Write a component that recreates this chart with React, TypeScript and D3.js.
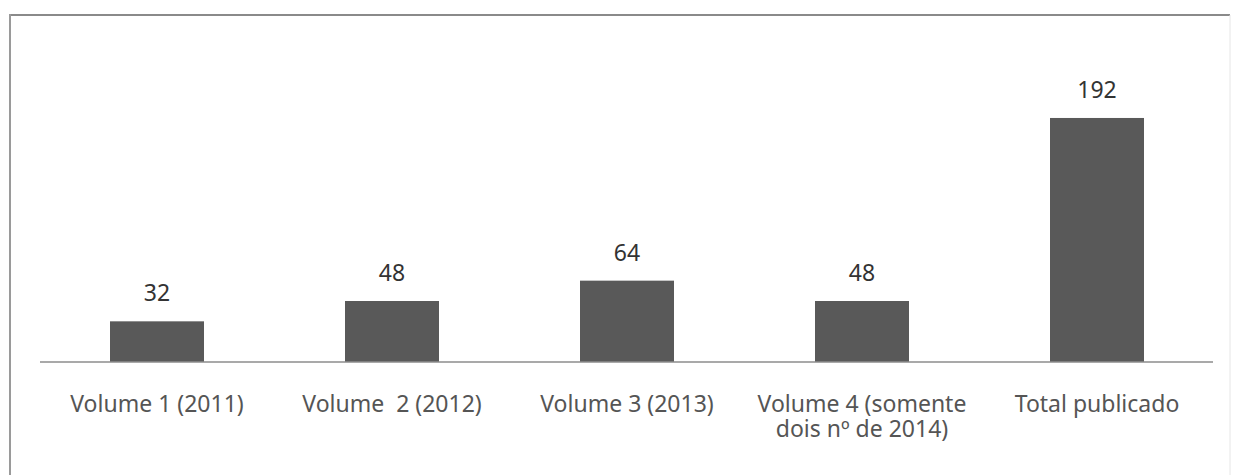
import React from "react";
import * as d3 from "d3";

const categories: string[][] = [
  ["Volume 1 (2011)"],
  ["Volume  2 (2012)"],
  ["Volume 3 (2013)"],
  ["Volume 4 (somente", "dois nº de 2014)"],
  ["Total publicado"],
];
const values: number[] = [32, 48, 64, 48, 192];
const yDomain: [number, number] = [0, 250];

const W = 1235;
const H = 475;

export default function App() {
  const keys = categories.map((_, i) => String(i));
  const x = d3.scaleBand<string>().domain(keys).range([39.5, 1214.5]).paddingInner(0.6).paddingOuter(0.3);
  const y = d3.scaleLinear().domain(yDomain).range([362, 44.25]);
  const font = "'Noto Sans', 'Open Sans', sans-serif";
  return (
    <svg
      width={W}
      height={H}
      style={{ position: "absolute", left: 0, top: 0, background: "#fff" }}
    >
      <line x1={10} y1={15} x2={1230} y2={15} stroke="#8a8a8a" strokeWidth={2} />
      <line x1={10} y1={14} x2={10} y2={H} stroke="#9a9a9a" strokeWidth={2} />
      <line x1={1230} y1={15} x2={1230} y2={H} stroke="#e6e6e6" strokeWidth={1} />
      {values.map((v, i) => (
        <rect
          key={"b" + i}
          x={x(String(i))}
          y={y(v)}
          width={x.bandwidth()}
          height={y(0) - y(v)}
          fill="#595959"
        />
      ))}
      <line x1={40} y1={y(0)} x2={1213} y2={y(0)} stroke="#8c8c8c" strokeWidth={1.5} />
      {values.map((v, i) => (
        <text
          key={"v" + i}
          x={(x(String(i)) as number) + x.bandwidth() / 2}
          y={y(v) - 20}
          textAnchor="middle"
          fontFamily={font}
          fontSize={23}
          fill="#333"
        >
          {v}
        </text>
      ))}
      {categories.map((lines, i) => (
        <text
          key={"c" + i}
          x={(x(String(i)) as number) + x.bandwidth() / 2}
          y={412}
          textAnchor="middle"
          fontFamily={font}
          fontSize={23}
          fill="#555"
          style={{ whiteSpace: "pre" }}
        >
          {lines.map((l, j) => (
            <tspan key={j} x={(x(String(i)) as number) + x.bandwidth() / 2} dy={j === 0 ? 0 : 25}>
              {l}
            </tspan>
          ))}
        </text>
      ))}
    </svg>
  );
}
